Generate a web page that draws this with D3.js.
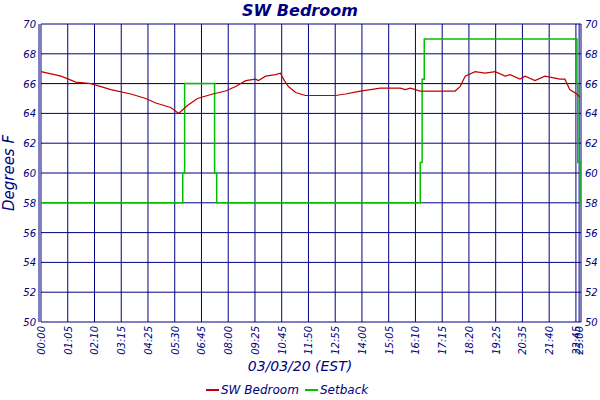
<!DOCTYPE html>
<html><head><meta charset="utf-8">
<script src="https://cdn.jsdelivr.net/npm/d3@7"></script>
<style>body{margin:0;background:#fff}text{font-family:"DejaVu Sans",sans-serif;font-style:italic;fill:#000080}</style>
</head><body><svg id="c" width="600" height="400"></svg>
<script>
// x is sample-position on the category axis (one unit per tick label)
var tickLabels = ['00:00','01:05','02:10','03:15','04:25','05:30','06:45','08:00','09:25','10:45','11:50',
  '12:55','14:00','15:05','16:10','17:15','18:20','19:25','20:35','21:40','22:45','23:00'];
var tickPos = [0,1,2,3,4,5,6,7,8,9,10,11,12,13,14,15,16,17,18,19,20,20.12];
var yTicks = [50,52,54,56,58,60,62,64,66,68,70];

var roomX = [0,0.75,1.30,1.87,2.24,2.61,3.36,3.92,4.29,4.85,5.15,5.45,5.85,6.42,6.90,7.28,7.65,8.02,8.13,8.40,
  8.77,8.95,9.10,9.25,9.52,9.89,11.01,11.38,11.94,12.69,13.43,13.62,13.81,14.18,15.48,15.67,15.86,16.23,16.60,16.98,
  17.35,17.54,17.91,18.10,18.47,18.84,19.40,19.59,19.77,20.03,20.15];
var roomY = [66.8,66.5,66.1,66.0,65.8,65.6,65.3,65.0,64.7,64.4,64.0,64.5,65.0,65.3,65.5,65.8,66.2,66.3,66.2,66.5,
  66.6,66.7,66.2,65.8,65.4,65.2,65.2,65.3,65.5,65.7,65.7,65.6,65.7,65.5,65.5,65.8,66.5,66.8,66.7,66.8,
  66.5,66.6,66.3,66.5,66.2,66.5,66.3,66.3,65.6,65.3,65.1];
var setX = [0,5.30,5.30,5.37,5.37,6.49,6.49,6.57,6.57,14.18,14.18,14.25,14.25,14.33,14.33,20.04,20.04,20.07,20.07,20.15,20.15,20.19];
var setY = [58,58,60,60,66,66,60,60,58,58,60.7,60.7,66.3,66.3,69,69,66,66,60.7,60.7,58,58];

var svg = d3.select('#c');
var L = 41, R = 581, T = 24, B = 322;
var x = d3.scaleLinear().domain([0, 20.19]).range([L, R]);
var y = d3.scaleLinear().domain([50, 70]).range([B, T]);
var navy = '#000080';

// grid
svg.selectAll('.hg').data(yTicks).join('line')
  .attr('x1', L).attr('x2', R).attr('y1', function (d) { return y(d); }).attr('y2', function (d) { return y(d); })
  .attr('stroke', function (d) { return d === 66 ? '#000' : navy; }).attr('stroke-width', 1);
svg.selectAll('.vg').data(tickPos).join('line')
  .attr('x1', function (d) { return x(d); }).attr('x2', function (d) { return x(d); })
  .attr('y1', T).attr('y2', B).attr('stroke', navy);
svg.append('line').attr('x1', L - 2).attr('x2', L - 2).attr('y1', T).attr('y2', B).attr('stroke', navy);
svg.append('line').attr('x1', R).attr('x2', R).attr('y1', T).attr('y2', B).attr('stroke', navy);

// y labels both sides
svg.selectAll('.yl').data(yTicks).join('text')
  .attr('x', L - 5).attr('y', function (d) { return y(d) + 4; }).attr('text-anchor', 'end')
  .attr('font-size', 10).text(function (d) { return d; });
svg.selectAll('.yr').data(yTicks).join('text')
  .attr('x', R + 4).attr('y', function (d) { return y(d) + 4; })
  .attr('font-size', 10).text(function (d) { return d; });

// x labels rotated
svg.selectAll('.xl').data(tickPos).join('text')
  .attr('transform', function (d) { return 'translate(' + (x(d) + 4) + ',' + (B + 4) + ') rotate(-90)'; })
  .attr('text-anchor', 'end').attr('font-size', 10)
  .text(function (d, i) { return tickLabels[i]; });

// series
var line = d3.line().x(function (d) { return x(d[0]); }).y(function (d) { return y(d[1]); });
svg.append('path').datum(setX.map(function (v, i) { return [v, setY[i]]; }))
  .attr('d', line).attr('fill', 'none').attr('stroke', '#00c000').attr('stroke-width', 1.5);
svg.append('path').datum(roomX.map(function (v, i) { return [v, roomY[i]]; }))
  .attr('d', line).attr('fill', 'none').attr('stroke', '#c00000').attr('stroke-width', 1.2);

// titles
svg.append('text').attr('x', 300).attr('y', 16).attr('text-anchor', 'middle')
  .attr('font-size', 16).attr('font-weight', 'bold').text('SW Bedroom');
svg.append('text').attr('transform', 'translate(14,' + ((T + B) / 2) + ') rotate(-90)')
  .attr('text-anchor', 'middle').attr('font-size', 15).text('Degrees F');
svg.append('text').attr('x', 300).attr('y', 371).attr('text-anchor', 'middle')
  .attr('font-size', 14).text('03/03/20 (EST)');

// legend
var leg = [['SW Bedroom', '#c00000', 206], ['Setback', '#00c000', 305]];
leg.forEach(function (l) {
  svg.append('line').attr('x1', l[2]).attr('x2', l[2] + 13).attr('y1', 390).attr('y2', 390)
    .attr('stroke', l[1]).attr('stroke-width', 2);
  svg.append('text').attr('x', l[2] + 15).attr('y', 394).attr('font-size', 12).text(l[0]);
});
</script></body></html>
